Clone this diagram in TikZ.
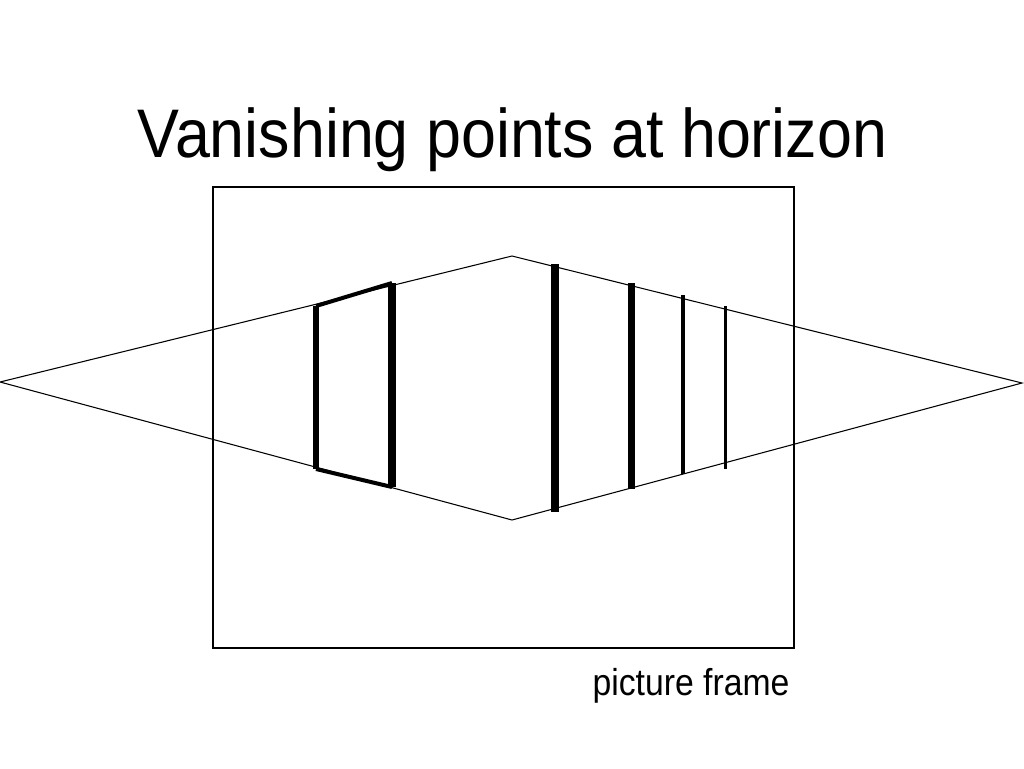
\documentclass[tikz,border=0pt]{standalone}
\usepackage{fontspec}
\setmainfont{Liberation Sans}
\usepackage{graphicx}
\usetikzlibrary{calc}
\tikzset{%
    thinline/.style={line width=0.8pt},
    edge/.style={line width=#1, line cap=butt},
    tall/.style={inner sep=0pt, anchor=base}
}
\newcommand{\tallt}[2][1.11]{\scalebox{1}[#1]{#2}}

\begin{document}
\begin{tikzpicture}[x=0.75pt,y=-0.75pt]
    \useasboundingbox (0,0) rectangle (1024,768);

    \node[tall, font=\fontsize{47.1}{50}\selectfont] (title) at (512.5,157) {\tallt[1.095]{Vanishing points at horizon}};

    % picture frame
    \draw[line width=1.5pt] (213,187) rectangle (794,648);
    \node[tall, font=\fontsize{25.3}{28}\selectfont] (frame) at (691,695) {\tallt{picture frame}};

    % horizon diamond
    \coordinate (L) at (0,382);
    \coordinate (T) at (512,256);
    \coordinate (R) at (1022,383);
    \coordinate (B) at (512,520);
    \draw[thinline] (L) -- (T) -- (R) -- (B) -- cycle;

    % door at the left
    \coordinate (d1) at (316,306);
    \coordinate (d2) at (392,283);
    \coordinate (d3) at (392,487);
    \coordinate (d4) at (316,469);
    \draw[edge=3.8pt] (d1) -- (d4);
    \draw[edge=6pt] (d2) -- (d3);
    \draw[edge=3pt] (d1) -- (d2);
    \draw[edge=3pt] (d4) -- (d3);

    % posts at the right
    \coordinate (p1t) at (554.7,264);
    \coordinate (p1b) at (554.7,512);
    \coordinate (p2t) at (631.5,283);
    \coordinate (p2b) at (631.5,489);
    \coordinate (p3t) at (682.7,295);
    \coordinate (p3b) at (682.7,474);
    \coordinate (p4t) at (725.3,306);
    \coordinate (p4b) at (725.3,469);
    \draw[edge=6pt] (p1t) -- (p1b);
    \draw[edge=4.8pt] (p2t) -- (p2b);
    \draw[edge=3pt] (p3t) -- (p3b);
    \draw[edge=2.3pt] (p4t) -- (p4b);

\end{tikzpicture}
\end{document}
